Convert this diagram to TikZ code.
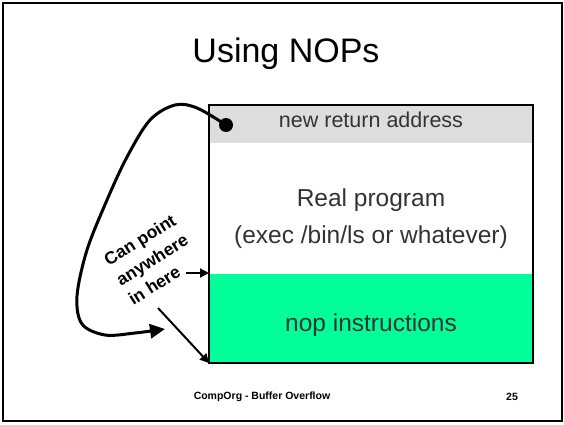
\documentclass[tikz,border=0pt]{standalone}
\usepackage{fontspec}
\setmainfont{Liberation Sans}
\usetikzlibrary{positioning,arrows.meta}
\definecolor{retgray}{HTML}{DDDDDD}
\definecolor{nopgreen}{HTML}{00FF99}
\definecolor{boxtext}{HTML}{333333}

\begin{document}
\begin{tikzpicture}[x=1pt, y=1pt,
    band/.style = {rectangle, inner sep=0pt, outer sep=0pt, minimum width=324pt},
    lbl/.style = {text=boxtext, align=center},
    bigarrow/.style = {line width=3pt, -{Triangle[length=15pt,width=14pt]}},
    smallarrow/.style = {line width=2pt, -{Triangle[length=9pt,width=9pt]}}]
	\useasboundingbox (0,0) rectangle (564,424);
	\draw[line width=2pt] (3,3) rectangle (562,421);
	% title and footer
	\node[font=\fontsize{34}{38}\selectfont, anchor=base] (title) at (286,361) {Using NOPs};
	\node[font=\fontsize{10.5}{12}\selectfont\bfseries] (foot) at (262,27) {CompOrg - Buffer Overflow};
	\node[font=\fontsize{10.5}{12}\selectfont\bfseries] (page) at (512,27) {25};
	% the stack
	\node[band, fill=retgray, minimum height=38pt] (ret) at (371,300) {};
	\node[band, minimum height=131pt, below=0pt of ret] (prog) {};
	\node[band, fill=nopgreen, minimum height=89pt, below=0pt of prog] (nop) {};
	\draw[line width=2pt] (ret.north west) rectangle (nop.south east);
	\node[lbl, font=\fontsize{21.5}{25}\selectfont] (retlbl) at (371,304) {new return address};
	\node[lbl, font=\fontsize{24.5}{37}\selectfont] (proglbl) at (371,205) {Real program\\(exec /bin/ls or whatever)};
	\node[lbl, font=\fontsize{24.5}{28}\selectfont] (noplbl) at (371,99) {nop instructions};
	% pointer
	\node[circle, fill, inner sep=0pt, minimum size=14pt] (dot) at (226,299) {};
	\coordinate (tip) at (165,95);
	\draw[bigarrow] plot[smooth, tension=0.55] coordinates {(dot.center) (197,316) (175,319) (150,304) (127,267) (107,224) (87,174) (77,128) (82,100) (105,89) (135,91) (tip)};
	\node[font=\fontsize{17.5}{23}\selectfont\bfseries, align=left, inner sep=0pt, rotate=32] (note) at (152,164.5) {Can point\\anywhere\\in here};
	\coordinate (from1) at (186,151);
	\coordinate (from2) at (158,116);
	\draw[smallarrow] (from1) -- (from1 -| nop.west);
	\draw[smallarrow] (from2) -- (nop.south west);
\end{tikzpicture}
\end{document}
